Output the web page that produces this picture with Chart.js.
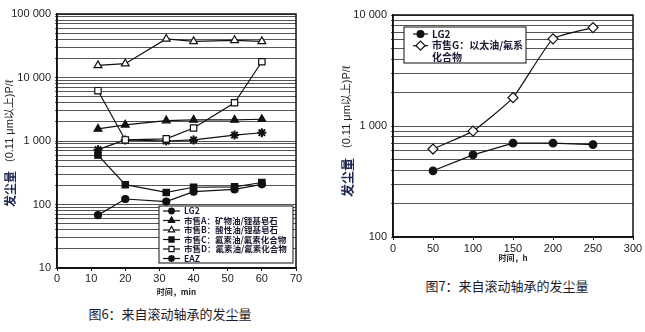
<!DOCTYPE html>
<html>
<head>
<meta charset="utf-8">
<script src="https://cdn.jsdelivr.net/npm/chart.js@4/dist/chart.umd.min.js"></script>
<style>
  body { margin: 0; background: #fff; width: 645px; height: 332px; position: relative; overflow: hidden; }
  .fig { position: absolute; }
  .caption {
    position: absolute; transform: translate(-50%, -50%); white-space: nowrap;
    font: 13px "Noto Sans CJK SC", sans-serif; color: #1c1c2e;
  }
</style>
</head>
<body>
<div class="fig" style="left:0;top:0;width:315px;height:300px"><canvas id="fig6"></canvas></div>
<div class="fig" style="left:325px;top:0;width:320px;height:265px"><canvas id="fig7"></canvas></div>
<div class="caption" style="left:170px;top:313px">图6：来自滚动轴承的发尘量</div>
<div class="caption" style="left:507px;top:285px">图7：来自滚动轴承的发尘量</div>

<script>
// 图6: short runs, time in minutes
const minutes = [12, 20, 32, 40, 52, 60];
const lg2Short = [68, 122, 111, 159, 173, 208];
const greaseA = [1550, 1800, 2100, 2150, 2150, 2200];
const greaseB = [15500, 16500, 40500, 37000, 38500, 37000];
const greaseC = [600, 205, 155, 187, 190, 222];
const greaseD = [6200, 1040, 1080, 1600, 4000, 17700];
const eaz = [730, 1040, 1000, 1040, 1240, 1350];
const decades6 = [10, 100, 1000, 10000, 100000];
const decadeLabels6 = ['10', '100', '1 000', '10 000', '100 000'];

// 图7: long runs, time in hours
const hours = [50, 100, 150, 200, 250];
const lg2Long = [395, 550, 700, 700, 680];
const greaseG = [620, 900, 1800, 6100, 7700];
const decades7 = [100, 1000, 10000];
const decadeLabels7 = ['100', '1 000', '10 000'];

const INK = '#111';
const NUM_FONT = '"Liberation Sans", Arial, sans-serif';
const CJK_FONT = '"Noto Sans CJK SC", sans-serif';

function series(label, xs, ys, style, filled, radius, extra) {
  return Object.assign({
    label,
    data: xs.map((x, i) => ({ x, y: ys[i] })),
    borderColor: INK,
    borderWidth: 1.2,
    pointStyle: style,
    pointRadius: radius,
    pointBackgroundColor: filled ? INK : '#fff',
    pointBorderColor: INK,
    pointBorderWidth: 1.2,
    tension: 0
  }, extra || {});
}

// log axis with grid lines at every 1..9 step, labels on decades only
function dustAxis(decades, labels, width) {
  return {
    type: 'logarithmic',
    min: decades[0],
    max: decades[decades.length - 1],
    afterBuildTicks: scale => {
      const ticks = [];
      decades.forEach((d, i) => {
        if (i < decades.length - 1) {
          for (let k = 1; k < 10; k++) ticks.push({ value: d * k });
        } else {
          ticks.push({ value: d });
        }
      });
      scale.ticks = ticks;
    },
    afterFit: scale => { scale.width = width; },
    ticks: {
      autoSkip: false,
      padding: 4,
      color: '#222',
      font: { family: NUM_FONT, size: 11 },
      callback: v => {
        const i = decades.indexOf(v);
        return i < 0 ? '' : labels[i];
      }
    },
    grid: { color: '#555', lineWidth: 1, tickLength: 2 },
    border: { color: INK, width: 1.5 }
  };
}

function timeAxis(max, step, title, height, titlePad, tickPad) {
  return {
    type: 'linear',
    min: 0,
    max: max,
    afterFit: scale => { scale.height = height; },
    ticks: {
      stepSize: step,
      padding: tickPad,
      maxRotation: 0,
      color: '#222',
      font: { family: NUM_FONT, size: 11 }
    },
    grid: { drawOnChartArea: false, tickLength: 3, color: INK },
    border: { color: INK, width: 1.5 },
    title: {
      display: true,
      text: title,
      color: '#222',
      padding: { top: 0, bottom: titlePad },
      font: { family: CJK_FONT, size: 8, weight: 'bold' }
    }
  };
}

// frame, boxed legend inside the plot, and the two-size y title
const figureDecor = {
  id: 'figureDecor',
  beforeDatasetsDraw(chart) {
    const { ctx, chartArea: a } = chart;
    ctx.save();
    ctx.strokeStyle = INK;
    ctx.lineWidth = 1.5;
    ctx.strokeRect(a.left, a.top, a.right - a.left, a.bottom - a.top);
    ctx.restore();
  },
  afterDatasetsDraw(chart, args, opts) {
    const { ctx } = chart;
    const L = opts.legend;
    ctx.save();
    ctx.fillStyle = '#fff';
    ctx.fillRect(L.x, L.y, L.w, L.h);
    ctx.strokeStyle = INK;
    ctx.lineWidth = 1;
    ctx.strokeRect(L.x, L.y, L.w, L.h);
    let row = 0;
    chart.data.datasets.forEach(ds => {
      const lines = ds.label.split('\n');
      const y = L.firstRow + row * L.rowGap;
      const mid = (L.lineFrom + L.lineTo) / 2;
      ctx.strokeStyle = INK;
      ctx.lineWidth = 1.2;
      ctx.beginPath();
      ctx.moveTo(L.lineFrom, y);
      ctx.lineTo(L.lineTo, y);
      ctx.stroke();
      ctx.fillStyle = ds.pointBackgroundColor;
      ctx.lineWidth = ds.pointBorderWidth;
      Chart.helpers.drawPoint(ctx, {
        pointStyle: ds.pointStyle,
        radius: ds.pointRadius * L.markerScale,
        rotation: 0,
        borderWidth: ds.pointBorderWidth
      }, mid, y);
      ctx.fillStyle = '#1b1b33';
      ctx.font = L.font;
      ctx.textBaseline = 'middle';
      ctx.textAlign = 'left';
      lines.forEach((t, j) => ctx.fillText(t, L.textX, y + j * L.rowGap));
      row += lines.length;
    });
    ctx.restore();
  },
  afterDraw(chart, args, opts) {
    const { ctx } = chart;
    const T = opts.yTitle;
    ctx.save();
    ctx.translate(T.x, T.bottom);
    ctx.rotate(-Math.PI / 2);
    ctx.textBaseline = 'middle';
    ctx.textAlign = 'left';
    ctx.fillStyle = '#1d2550';
    ctx.font = 'bold ' + T.bigSize + 'px ' + CJK_FONT;
    ctx.fillText('发尘量', 0, 0);
    const w = ctx.measureText('发尘量').width;
    ctx.fillStyle = '#222';
    ctx.font = T.smallSize + 'px ' + NUM_FONT + ', ' + CJK_FONT;
    ctx.fillText('(0.11 μm以上)P/ℓ', w + T.gap, 0);
    ctx.restore();
  }
};

Chart.defaults.animation = false;

new Chart(document.getElementById('fig6'), {
  type: 'line',
  data: {
    datasets: [
      series('LG2', minutes, lg2Short, 'circle', true, 3.5),
      series('市售A：矿物油/锂基皂石', minutes, greaseA, 'triangle', true, 4.5),
      series('市售B：酸性油/锂基皂石', minutes, greaseB, 'triangle', false, 4.5),
      series('市售C：氟素油/氟素化合物', minutes, greaseC, 'rect', true, 4.5),
      series('市售D：氟素油/氟素化合物', minutes, greaseD, 'rect', false, 4.5),
      series('EAZ', minutes, eaz, 'star', false, 4.5, { pointBorderWidth: 2 })
    ]
  },
  options: {
    responsive: true,
    maintainAspectRatio: false,
    layout: { padding: { top: 14, right: 19, bottom: 0, left: 0 } },
    scales: {
      x: timeAxis(70, 10, '时间，min', 32, 3, 1),
      y: dustAxis(decades6, decadeLabels6, 57)
    },
    plugins: {
      legend: { display: false },
      tooltip: { enabled: false },
      figureDecor: {
        legend: {
          x: 159, y: 206, w: 134, h: 57,
          firstRow: 211, rowGap: 9.5,
          lineFrom: 163, lineTo: 180, textX: 184,
          markerScale: 0.8,
          font: 'bold 8.5px ' + CJK_FONT
        },
        yTitle: { x: 10, bottom: 207, gap: 9, bigSize: 12, smallSize: 11 }
      }
    }
  },
  plugins: [figureDecor]
});

new Chart(document.getElementById('fig7'), {
  type: 'line',
  data: {
    datasets: [
      series('LG2', hours, lg2Long, 'circle', true, 3.8),
      series('市售G：以太油/氟系\n化合物', hours, greaseG, 'rectRot', false, 5, { tension: 0.15 })
    ]
  },
  options: {
    responsive: true,
    maintainAspectRatio: false,
    layout: { padding: { top: 15, right: 12, bottom: 0, left: 0 } },
    scales: {
      x: timeAxis(300, 50, '时间，h', 28, 2, 2),
      y: dustAxis(decades7, decadeLabels7, 68)
    },
    plugins: {
      legend: { display: false },
      tooltip: { enabled: false },
      figureDecor: {
        legend: {
          x: 79, y: 27, w: 122, h: 36,
          firstRow: 34, rowGap: 11.7,
          lineFrom: 88, lineTo: 103, textX: 107,
          markerScale: 0.9,
          font: 'bold 10px ' + CJK_FONT
        },
        yTitle: { x: 22, bottom: 197, gap: 10, bigSize: 13, smallSize: 11 }
      }
    }
  },
  plugins: [figureDecor]
});
</script>
</body>
</html>
